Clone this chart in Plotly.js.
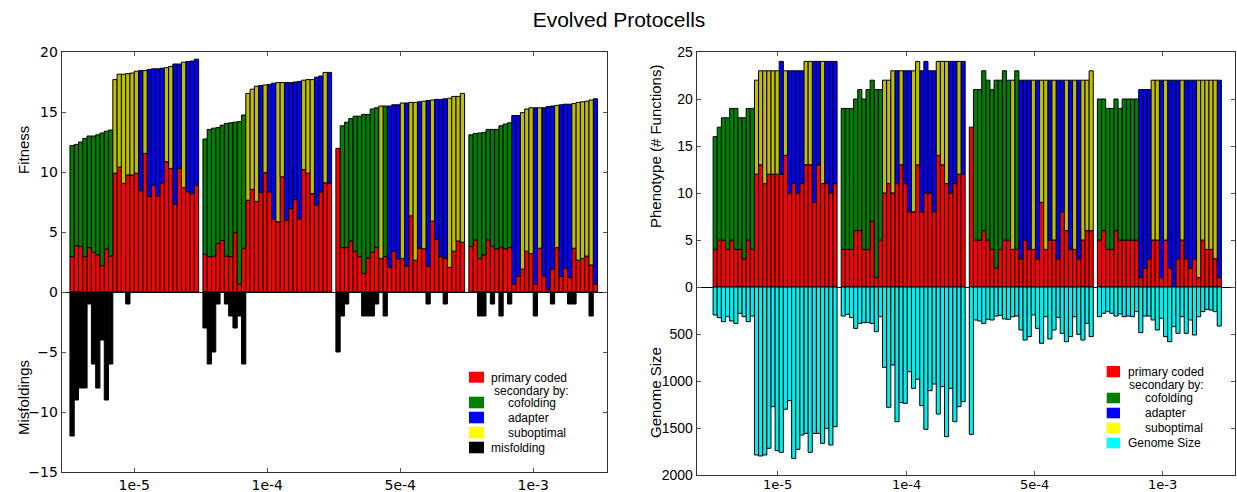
<!DOCTYPE html>
<html>
<head>
<meta charset="utf-8">
<script src="https://cdn.plot.ly/plotly-3.0.1.min.js"></script>
<style>html,body{margin:0;padding:0;background:#fff;}#chart{width:1237px;height:492px;}</style>
</head>
<body>
<div id="chart"></div>
<script>
// ---------------- DATA ----------------
const groupLabels = ['1e-5', '1e-4', '5e-4', '1e-3'];

// Left panel: fitness (total bar height), primary coded part, secondary type, misfoldings
// secondary type codes: C = cofolding, A = adapter, S = suboptimal, - = none
const fitnessTotal = [
  12.2,12.3,12.5,12.8,13.0,13.0,13.1,13.25,13.4,13.5, 17.7,18.15,18.15,18.2,18.25,18.4,18.45,18.45,18.55,18.6,18.6,18.65,18.7,18.8,19.0,19.0,19.15,19.2,19.25,19.4,
  12.75,13.55,13.65,13.7,13.9,14.05,14.1,14.15,14.2,14.75, 16.55,16.9,17.15,17.2,17.25,17.3,17.4,17.45,17.45,17.45,17.45,17.5,17.55,17.65,17.7,17.7,17.9,18.0,18.3,18.3,
  11.97,13.85,14.15,14.45,14.65,14.65,14.8,14.8,15.25,15.35, 15.5,15.5,15.5,15.6,15.6,15.75,15.75,15.8,15.8,15.85,15.9,15.95,16.0,16.05,16.05,16.1,16.15,16.3,16.3,16.55,
  13.1,13.2,13.25,13.3,13.55,13.55,13.55,13.85,14.0,14.1, 14.7,14.7,14.95,15.25,15.35,15.35,15.35,15.35,15.45,15.5,15.55,15.6,15.65,15.65,15.7,15.8,15.85,15.9,16.0,16.1
];
const fitnessPrimary = [
  2.95,3.85,3.8,2.95,3.7,3.3,3.1,2.2,3.6,3.0, 9.9,10.4,9.05,9.75,9.75,9.9,8.45,11.55,7.95,8.9,8.0,9.1,10.85,10.3,7.3,10.3,8.7,8.35,8.2,8.9,
  3.15,2.95,3.0,4.05,4.3,3.0,2.95,4.95,0.65,3.65, 7.65,8.55,7.55,8.3,9.95,8.35,6.05,5.85,9.6,6.0,6.95,7.7,6.1,10.2,9.9,8.2,7.25,8.35,9.1,9.05,
  11.97,3.7,3.7,4.25,3.4,2.95,1.55,2.85,3.3,3.7, 2.8,2.95,2.05,3.4,2.75,2.8,2.15,6.35,2.65,3.65,3.6,2.15,5.9,4.4,2.95,2.8,2.05,3.4,4.25,4.15,
  3.8,4.35,2.8,3.1,4.35,3.8,3.6,3.7,3.6,3.7, 0.65,1.3,1.9,3.4,3.2,0.65,3.65,1.35,0.2,1.9,3.7,1.3,2.0,1.2,3.65,2.65,2.8,3.0,2.25,0.65
];
const fitnessSecondaryType = (
  'CCCCCCCCCC' + 'SSSSSSASAAAASSAASAAA' +
  'CCCCCCCCCC' + 'SSSASAASSAAAASSSAASA' +
  '-CCCCCCCCC' + 'SCAAASASSASASAAASSSS' +
  'CCCCCCCCCC' + 'AASSSASAAASAAASSSSSA'
).split('');
const misfoldings = [
  12,9,8,8,1,6,8,4,9,6, 0,0,0,1,0,0,0,0,0,0,0,0,0,0,0,0,0,0,0,0,
  3,6,5,1,0,1,2,3,2,6, 0,0,0,0,0,0,0,0,0,0,0,0,0,0,0,0,0,0,0,0,
  5,2,1,0,0,0,2,2,2,1, 0,2,0,0,0,0,0,0,0,0,0,1,0,0,0,1,0,0,0,0,
  0,0,2,2,0,1,0,2,0,1, 0,0,0,0,0,2,0,0,0,1,0,0,0,1,1,0,0,0,2,0
];

// Right panel: phenotype (# functions), primary coded part, secondary type, genome size
const phenotypeTotal = [
  16,17,18,18,19,19,18,18,19,19, 22,23,23,23,23,23,24,23,23,23,23,23,24,24,24,24,24,24,24,24,
  19,19,19,20,21,20,21,22,21,21, 22,22,23,23,23,23,23,23,24,23,24,23,23,24,24,24,24,24,24,24,
  17,21,21,23,22,21,22,22,23,22, 22,23,22,22,22,22,22,22,22,22,22,22,22,22,22,22,22,22,22,23,
  20,20,19,19,20,19,20,20,20,20, 21,21,21,22,22,22,22,22,22,22,22,22,22,22,22,22,22,22,22,22
];
const phenotypePrimary = [
  4,5,5,4,5,4,4,3,5,4, 12,13,11,12,12,12,12,14,10,11,10,11,13,13,9,13,11,11,10,11,
  4,4,4,6,6,4,4,7,1,5, 10,11,10,11,13,11,8,8,13,8,10,10,8,14,13,11,10,11,12,12,
  17,5,5,6,5,4,2,4,5,5, 4,4,3,5,4,4,3,9,4,5,5,3,8,6,4,4,3,5,6,6,
  5,6,4,4,6,5,5,5,5,5, 1,2,3,5,5,1,5,2,0,3,5,3,2,3,1,5,4,4,3,1
];
const phenotypeSecondaryType = (
  'CCCCCCCCCC' + 'SSSSSSASAAAASSAASAAA' +
  'CCCCCCCCCC' + 'SSSASAASSAAAASSSAASA' +
  '-CCCCCCCCC' + 'SCAAASASSASAASASASSS' +
  'CCCCCCCCCC' + 'AAASSASAAASAAASSSSSA'
).split('');
const genomeSize = [
  298,326,369,316,362,387,280,316,369,309, 1787,1798,1787,1716,1273,1741,1759,1301,1209,1823,1727,1574,1557,1759,1557,1557,1663,1504,1681,1486,
  309,291,326,440,387,379,379,387,475,316, 855,1280,830,1433,1230,1238,901,1078,982,1262,1514,1103,1032,1351,1060,1592,1078,1433,1273,1220,
  1567,351,362,387,344,351,309,301,340,344, 316,309,457,564,528,298,440,599,316,553,457,323,493,582,528,316,504,564,387,528,
  316,280,262,280,309,287,316,309,316,262, 486,309,309,351,457,333,528,582,422,493,316,493,351,511,316,262,238,245,262,415
];
const genomeScale = 100; // genome size drawn at 1/100 on the phenotype axis

// ---------------- BUILD ----------------
const W = 1237, H = 492;
const perGroup = 30, slot = 31;
const xPos = fitnessTotal.map((_, k) => Math.floor(k / perGroup) * slot + (k % perGroup));
const leftTickVals = groupLabels.map((_, g) => g * slot + 14.5);
const rightTickVals = groupLabels.map((_, g) => g * slot + 15.2);

const COL = { red: '#ff0000', C: '#008000', A: '#0000ff', S: '#bfbf00', black: '#000000', cyan: '#00f0f0' };
const edge = { color: '#000', width: 1 };

function barTrace(name, y, color, xa, ya) {
  return { type: 'bar', name, x: xPos, y, width: 1, xaxis: xa, yaxis: ya,
    marker: { color, line: edge }, showlegend: false, hoverinfo: 'skip' };
}
function secondary(total, prim, types, code) {
  return total.map((t, k) => (types[k] === code && t - prim[k] > 0) ? t - prim[k] : null);
}
const nz = v => (v > 0 ? v : null);

const traces = [
  barTrace('primary coded', fitnessPrimary.map(nz), COL.red, 'x', 'y'),
  barTrace('cofolding', secondary(fitnessTotal, fitnessPrimary, fitnessSecondaryType, 'C'), COL.C, 'x', 'y'),
  barTrace('adapter', secondary(fitnessTotal, fitnessPrimary, fitnessSecondaryType, 'A'), COL.A, 'x', 'y'),
  barTrace('suboptimal', secondary(fitnessTotal, fitnessPrimary, fitnessSecondaryType, 'S'), COL.S, 'x', 'y'),
  barTrace('misfolding', misfoldings.map(m => (m > 0 ? -m : null)), COL.black, 'x', 'y'),

  barTrace('primary coded', phenotypePrimary.map(nz), COL.red, 'x2', 'y2'),
  barTrace('cofolding', secondary(phenotypeTotal, phenotypePrimary, phenotypeSecondaryType, 'C'), COL.C, 'x2', 'y2'),
  barTrace('adapter', secondary(phenotypeTotal, phenotypePrimary, phenotypeSecondaryType, 'A'), COL.A, 'x2', 'y2'),
  barTrace('suboptimal', secondary(phenotypeTotal, phenotypePrimary, phenotypeSecondaryType, 'S'), COL.S, 'x2', 'y2'),
  barTrace('Genome Size', genomeSize.map(g => -g / genomeScale), COL.cyan, 'x2', 'y2')
];

const dejavu = 'DejaVu Sans, sans-serif';
const arial = 'Liberation Sans, Arial, sans-serif';
const axisCommon = {
  showline: true, linecolor: '#333', linewidth: 1.3, mirror: 'ticks',
  ticks: 'inside', ticklen: 4, tickwidth: 1, tickcolor: '#555',
  showgrid: false, fixedrange: true
};

const layout = {
  width: W, height: H, autosize: false,
  margin: { l: 0, r: 0, t: 0, b: 0 },
  paper_bgcolor: '#fff', plot_bgcolor: '#fff',
  barmode: 'relative',
  showlegend: false,
  title: { text: 'Evolved Protocells', x: 619 / W, xanchor: 'center', y: 1 - 20 / H, yanchor: 'middle',
    font: { family: arial, size: 21, color: '#000' } },
  xaxis: Object.assign({}, axisCommon, {
    domain: [62 / W, 607 / W], range: [-2.35, 124.7], anchor: 'y',
    tickvals: leftTickVals, ticktext: groupLabels, zeroline: false,
    tickfont: { family: dejavu, size: 14, color: '#000' }
  }),
  yaxis: Object.assign({}, axisCommon, {
    domain: [1 - 472 / H, 1 - 52 / H], range: [-15, 20], anchor: 'x',
    tickmode: 'linear', tick0: -15, dtick: 5,
    zeroline: true, zerolinecolor: '#000', zerolinewidth: 1,
    tickfont: { family: dejavu, size: 14, color: '#000' }
  }),
  xaxis2: Object.assign({}, axisCommon, {
    domain: [697 / W, 1235 / W], range: [-4.4, 125.8], anchor: 'y2',
    tickvals: rightTickVals, showticklabels: false, zeroline: false
  }),
  yaxis2: Object.assign({}, axisCommon, {
    domain: [1 - 475 / H, 1 - 52 / H], range: [-20, 25], anchor: 'x2',
    tickvals: [25, 20, 15, 10, 5, 0, -5, -10, -15, -20],
    ticktext: ['25', '20', '15', '10', '5', '0', '500', '1000', '1500', '2000'],
    zeroline: true, zerolinecolor: '#000', zerolinewidth: 1,
    tickfont: { family: arial, size: 14, color: '#000' }
  }),
  shapes: [],
  annotations: []
};

function ann(text, x, y, opts) {
  layout.annotations.push(Object.assign({
    text, x: x / W, y: 1 - y / H, xref: 'paper', yref: 'paper', showarrow: false,
    xanchor: 'left', yanchor: 'middle', font: { family: arial, size: 12, color: '#000' }
  }, opts || {}));
}
function sq(x0, y0, x1, y1, color) {
  layout.shapes.push({ type: 'rect', xref: 'paper', yref: 'paper',
    x0: x0 / W, x1: x1 / W, y0: 1 - y1 / H, y1: 1 - y0 / H,
    fillcolor: color, line: { width: 0 } });
}

// right-panel x tick labels (placed just under the frame so they stay inside the page)
groupLabels.forEach((lab, g) => {
  layout.annotations.push({ text: lab, x: rightTickVals[g], xref: 'x2', y: 1 - 484.5 / H, yref: 'paper',
    showarrow: false, xanchor: 'center', yanchor: 'middle',
    font: { family: dejavu, size: 13, color: '#000' } });
});

// axis titles
const titleFont = { family: arial, size: 15, color: '#000' };
ann('Fitness', 23, 150, { textangle: -90, xanchor: 'center', font: titleFont });
ann('Misfoldings', 23, 398, { textangle: -90, xanchor: 'center', font: titleFont });
ann('Phenotype (# Functions)', 655, 147, { textangle: -90, xanchor: 'center', font: titleFont });
ann('Genome Size', 655, 393, { textangle: -90, xanchor: 'center', font: titleFont });

// left legend
const LL = { sx0: 469, sx1: 484, tx: 489, tx2: 506 };
sq(LL.sx0, 371.7, LL.sx1, 382.7, '#ff0000'); ann('primary coded', LL.tx, 377.5);
ann('secondary by:', 491.5, 391);
sq(LL.sx0, 396.7, LL.sx1, 408.3, '#008000'); ann('cofolding', LL.tx2, 402.5);
sq(LL.sx0, 411.7, LL.sx1, 423.3, '#0000ff'); ann('adapter', LL.tx2, 417.5);
sq(LL.sx0, 426.7, LL.sx1, 438.3, '#ffff00'); ann('suboptimal', LL.tx2, 432.5);
sq(LL.sx0, 441.7, LL.sx1, 453.3, '#000000'); ann('misfolding', LL.tx, 447.5);

// right legend
const RL = { sx0: 1106.7, sx1: 1120, tx: 1125.7, tx2: 1143 };
sq(RL.sx0, 366, RL.sx1, 377.3, '#ff0000'); ann('primary coded', RL.tx, 371.7);
ann('secondary by:', 1127.3, 385);
sq(RL.sx0, 392.7, RL.sx1, 403.3, '#008000'); ann('cofolding', RL.tx2, 398);
sq(RL.sx0, 407.7, RL.sx1, 418.3, '#0000ff'); ann('adapter', RL.tx2, 413);
sq(RL.sx0, 422.7, RL.sx1, 433.3, '#ffff00'); ann('suboptimal', RL.tx2, 428);
sq(RL.sx0, 437.7, RL.sx1, 448.3, '#00ffff'); ann('Genome Size', RL.tx, 443);

Plotly.newPlot('chart', traces, layout, { staticPlot: true, displayModeBar: false });
</script>
</body>
</html>
